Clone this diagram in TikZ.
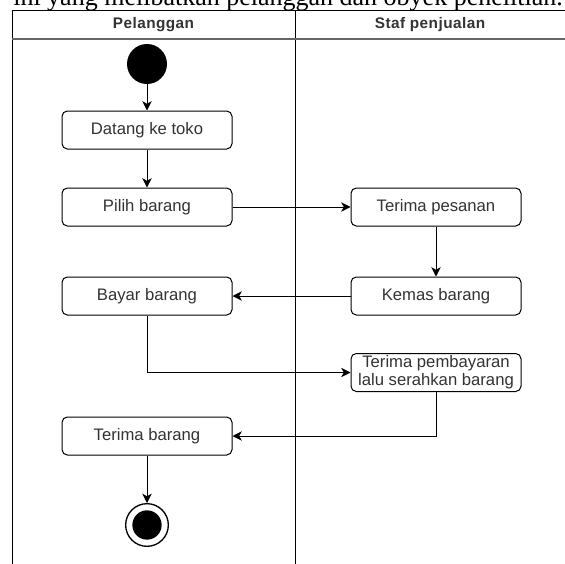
\documentclass[tikz,border=0pt]{standalone}
\usepackage{fontspec}
\setmainfont{Liberation Sans}
\newfontfamily\captionserif{Liberation Serif}
\usetikzlibrary{arrows.meta}
\definecolor{txtgray}{HTML}{333333}
\definecolor{headline}{HTML}{666666}

\begin{document}
\begin{tikzpicture}[x=0.75pt,y=0.75pt,yscale=-1,xscale=1,
        actbox/.style={draw=black,line width=0.75pt,rounded corners=4pt,fill=white,minimum width=127.5pt,minimum height=28.5pt,inner sep=1pt,align=center,text=txtgray,font=\fontsize{12.5}{13.5}\selectfont},
        flow/.style={line width=0.75pt,-{Stealth[length=7pt,width=7pt,inset=2pt]}},
        lanehead/.style={text=txtgray,inner sep=0pt,font=\fontsize{11.5}{13}\selectfont\bfseries\addfontfeature{LetterSpace=3}}]
        \useasboundingbox (0,0) rectangle (565,564);
        \clip (0,0) rectangle (565,564);

        % Text Node
        \node (caption) at (563,6) [anchor=base east,inner sep=0pt] {\captionserif\fontsize{19.5}{20}\selectfont ini yang melibatkan pelanggan dan obyek penelitian.};

        %Swimlanes
        \draw [line width=0.75pt] (12,564) -- (12,10) -- (565,10) ;
        \draw [line width=0.75pt] (295,10) -- (295,564) ;
        \draw [headline,line width=1pt] (12,39) -- (565,39) ;
        % Text Node
        \node (pelanggan) at (153.5,24.5) [lanehead] {Pelanggan};
        % Text Node
        \node (staf) at (430,24.5) [lanehead] {Staf penjualan};

        %Start / end
        \node (start) at (147,64) [circle,fill=black,minimum size=30pt,inner sep=0pt] {};
        \node (finish) at (147,525) [circle,draw=black,line width=1pt,minimum size=32pt,inner sep=0pt] {};
        \node (finishdot) at (finish) [circle,fill=black,minimum size=22pt,inner sep=0pt] {};

        %Activities
        \node (datang) at (147,130) [actbox] {Datang ke toko};
        \node (pilih) at (147,207) [actbox] {Pilih barang};
        \node (pesanan) at (436,207) [actbox] {Terima pesanan};
        \node (kemas) at (436,296) [actbox] {Kemas barang};
        \node (bayar) at (147,296) [actbox] {Bayar barang};
        \node (bayaran) at (436,372.5) [actbox] {Terima pembayaran\\lalu serahkan barang};
        \node (terimabrg) at (147,436) [actbox] {Terima barang};

        %Straight Lines
        \draw [flow] (start) -- (datang) ;
        \draw [flow] (datang) -- (pilih) ;
        \draw [flow] (pilih) -- (pesanan) ;
        \draw [flow] (pesanan) -- (kemas) ;
        \draw [flow] (kemas) -- (bayar) ;
        \draw [flow] (bayar) |- (bayaran) ;
        \draw [flow] (bayaran) |- (terimabrg) ;
        \draw [flow] (terimabrg) -- (finish) ;

    \end{tikzpicture}
\end{document}
